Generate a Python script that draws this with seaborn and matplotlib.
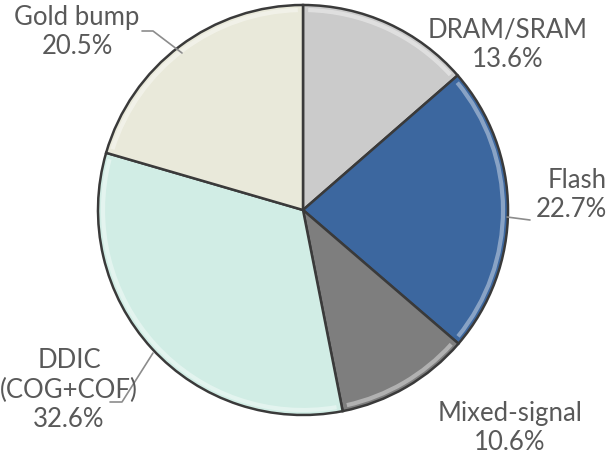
import matplotlib.pyplot as plt
import seaborn as sns
from matplotlib.patches import Arc

sns.set_theme(style="white")
plt.rcParams["font.family"] = ["Lato", "DejaVu Sans"]

# Data
segments = ["DRAM/SRAM", "Flash", "Mixed-signal", "DDIC\n(COG+COF)", "Gold bump"]
shares = [13.6, 22.7, 10.6, 32.6, 20.5]
colors = ["#cbcbcb", "#3c679f", "#7e7e7e", "#d1ede5", "#e9e9da"]

W, H = 615, 466
fig = plt.figure(figsize=(W / 100, H / 100), dpi=100)
ax = fig.add_axes([0, 0, 1, 1])

cx, cy, r = 303, H - 210, 205

wedges, _ = ax.pie(
    shares,
    colors=colors,
    startangle=90,
    counterclock=False,
    center=(cx, cy),
    radius=r,
    frame=True,
    wedgeprops=dict(edgecolor="#3a3a3a", linewidth=1.8),
)
ax.set_xlim(0, W)
ax.set_ylim(0, H)
ax.set_aspect("equal")
ax.axis("off")

# soft bevel highlight just inside each wedge rim
for w in wedges:
    ax.add_patch(Arc((cx, cy), 2 * (r - 5), 2 * (r - 5),
                     theta1=w.theta1 + 1.5, theta2=w.theta2 - 1.5,
                     edgecolor="white", alpha=0.4, linewidth=3))

# Labels (pixel positions from top-left)
label_pos = [(508, 45), (562, 195), (510, 428), (69, 390), (77, 32)]
for name, val, (x, y) in zip(segments, shares, label_pos):
    ha = "center"
    if name == "Flash":
        ha = "right"
        x = 607
    ax.text(x, H - y, f"{name}\n{val:.1f}%", ha=ha, va="center",
            fontsize=18.5, color="#595959", linespacing=1.22,
            multialignment="right" if ha == "right" else "center")

# Leader lines
leaders = [
    [(142, 31), (153, 31), (182, 53)],
    [(507, 217), (530, 220)],
    [(153, 353), (122, 402), (110, 402)],
]
for pts in leaders:
    xs = [p[0] for p in pts]
    ys = [H - p[1] for p in pts]
    ax.plot(xs, ys, color="#8c8c8c", linewidth=1.2)

fig.savefig("out.png", dpi=100)
